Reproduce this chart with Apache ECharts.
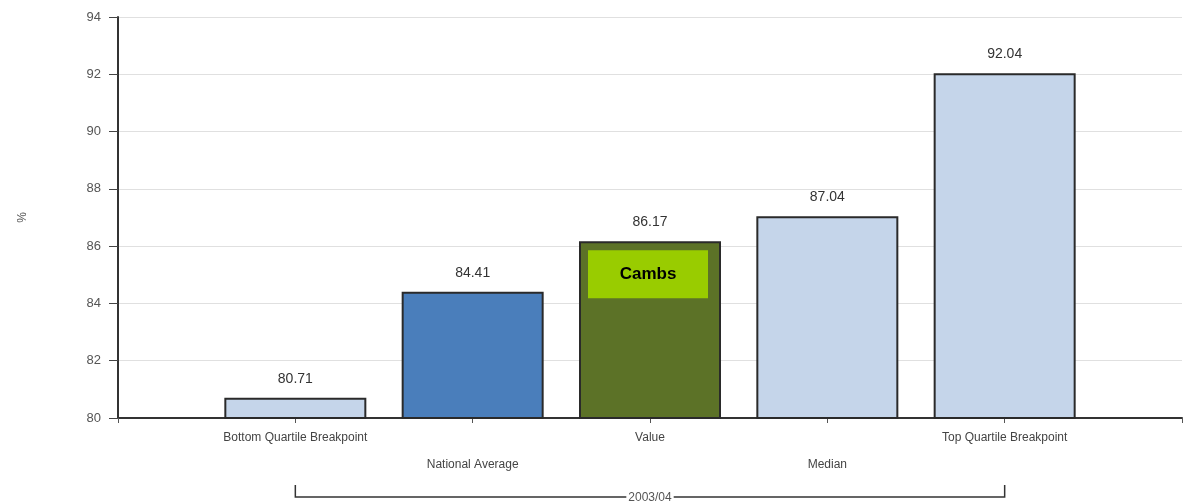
<!DOCTYPE html>
<html>
<head>
<meta charset="utf-8">
<script src="https://cdn.jsdelivr.net/npm/echarts@6/dist/echarts.min.js"></script>
<style>
  html, body { margin: 0; padding: 0; background: #fff; }
  #chart { width: 1185px; height: 503px; }
</style>
</head>
<body>
<div id="chart"></div>
<script>
// Indicator values for 2003/04
const categories = ['Bottom Quartile Breakpoint', 'National Average', 'Value', 'Median', 'Top Quartile Breakpoint'];
const values = [80.71, 84.41, 86.17, 87.04, 92.04];
const periodLabel = '2003/04';
const highlightName = 'Cambs';
const highlightCategory = 'Value';
const yMin = 80, yMax = 94, yStep = 2;

// bar fills, one per category
const fills = ['#c5d5ea', '#4a7ebb', '#5c7227', '#c5d5ea', '#c5d5ea'];

// empty slot at each end so bars sit one step in from the axis ends
const axisCats = [''].concat(categories, ['']);
const axisVals = [null].concat(values, [null]);

const chart = echarts.init(document.getElementById('chart'));
const font = '"Liberation Sans", Arial, sans-serif';

chart.setOption({
  animation: false,
  textStyle: { fontFamily: font },
  grid: { left: 118, right: 1, top: 17, bottom: 85, containLabel: false },
  xAxis: {
    type: 'category',
    data: axisCats,
    boundaryGap: false,
    axisLine: { lineStyle: { color: '#333', width: 2 } },
    axisTick: { show: true, length: 5, lineStyle: { color: '#555' } },
    axisLabel: {
      interval: 0,
      margin: 6,
      fontSize: 12,
      lineHeight: 27,
      color: '#444',
      formatter: function (v, i) { return (i % 2 === 0) ? '\n' + v : v; }
    },
    splitLine: { show: false }
  },
  yAxis: {
    type: 'value',
    min: yMin, max: yMax, interval: yStep,
    name: '%',
    nameLocation: 'middle',
    nameGap: 89,
    nameRotate: 90,
    nameTextStyle: { fontSize: 12, color: '#555' },
    axisLine: { show: true, lineStyle: { color: '#333', width: 2 } },
    axisTick: { show: true, length: 9, lineStyle: { color: '#444' } },
    axisLabel: { fontSize: 13, color: '#555', margin: 17 },
    splitLine: { show: true, lineStyle: { color: '#e0e0e0', width: 1 } }
  },
  series: [{
    type: 'bar',
    barWidth: 142,
    data: axisVals.map(function (v, i) {
      if (v === null) return null;
      return { value: v, itemStyle: { color: fills[i - 1] } };
    }),
    itemStyle: { borderColor: '#2a2a2a', borderWidth: 2 },
    label: {
      show: true,
      position: 'top',
      distance: 12,
      fontSize: 14,
      color: '#333',
      formatter: function (p) { return p.value.toFixed(2); }
    },
    markPoint: {
      silent: true,
      data: [{
        coord: [highlightCategory, values[categories.indexOf(highlightCategory)]],
        symbol: 'rect',
        symbolSize: [120, 48],
        symbolOffset: [-2, 33],
        itemStyle: { color: '#99cc00' },
        label: {
          show: true,
          position: 'inside',
          formatter: highlightName,
          fontSize: 17,
          fontWeight: 'bold',
          color: '#000'
        }
      }]
    }
  }]
});

// period bracket under the category labels, spanning first to last category
function drawBracket() {
  const x0 = chart.convertToPixel({ xAxisIndex: 0 }, categories[0]);
  const x1 = chart.convertToPixel({ xAxisIndex: 0 }, categories[categories.length - 1]);
  const yBase = chart.convertToPixel({ yAxisIndex: 0 }, yMin);
  const yLine = yBase + 79;
  const yTop = yLine - 12;
  chart.setOption({
    graphic: [
      {
        type: 'polyline',
        silent: true,
        shape: { points: [[x0, yTop], [x0, yLine], [x1, yLine], [x1, yTop]] },
        style: { stroke: '#333', lineWidth: 1.5, fill: null }
      },
      {
        type: 'text',
        silent: true,
        x: (x0 + x1) / 2,
        y: yLine + 1,
        style: {
          text: periodLabel,
          fill: '#555',
          font: '12px ' + font,
          align: 'center',
          verticalAlign: 'middle',
          backgroundColor: '#fff',
          padding: [0, 2]
        }
      }
    ]
  });
}
drawBracket();
</script>
</body>
</html>
